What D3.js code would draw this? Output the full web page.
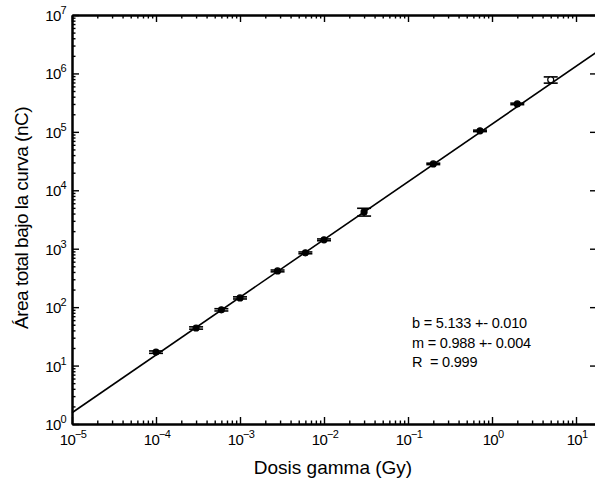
<!DOCTYPE html>
<html>
<head>
<meta charset="utf-8">
<script src="https://cdn.jsdelivr.net/npm/d3@7"></script>
<style>
  body { margin: 0; background: #fff; }
  svg { display: block; font-family: "Liberation Sans", Arial, sans-serif; }
</style>
</head>
<body>
<div class="canvas"></div>
<script>
// data
const doseGy = [1e-4, 3e-4, 6e-4, 1e-3, 2.8e-3, 6e-3, 1e-2, 3e-2, 0.2, 0.72, 2, 5];
const areaNC = [17, 44, 90, 144, 417, 850, 1420, 4270, 28300, 104000, 301000, 777000];
const areaErr = [0.8, 2, 4, 6, 15, 30, 50, 650, 800, 3000, 9000, 95000];
const xTickExps = [-5, -4, -3, -2, -1, 0, 1];
const yTickExps = [0, 1, 2, 3, 4, 5, 6, 7];
const fitLines = ['b = 5.133 +- 0.010', 'm = 0.988 +- 0.004', 'R  = 0.999'];
const fitB = 5.133, fitM = 0.988;

const width = 595, height = 487;
const margin = {top: 15, right: -1, bottom: 63, left: 72};
const graphWidth = width - margin.left - margin.right;
const graphHeight = height - margin.top - margin.bottom;

const svg = d3.select('.canvas')
  .append('svg')
    .attr('width', width)
    .attr('height', height);

const graph = svg.append('g')
  .attr('transform', `translate(${margin.left}, ${margin.top})`);

// scales
const x = d3.scaleLog()
  .domain([1e-5, Math.pow(10, 1.238)])
  .range([0, graphWidth]);
const y = d3.scaleLog()
  .domain([1, 1e7])
  .range([graphHeight, 0]);

// minor tick values
const minors = (lo, hi) => {
  const out = [];
  for (let e = lo; e < hi; e++)
    for (let k = 2; k <= 9; k++) out.push(k * Math.pow(10, e));
  return out;
};
const xMinor = minors(-5, 2).filter(v => v <= x.domain()[1]);
const yMinor = minors(0, 7);
const xMajor = xTickExps.map(e => Math.pow(10, e));
const yMajor = yTickExps.map(e => Math.pow(10, e));

const axisGroup = (axis, tx, ty) => {
  const g = graph.append('g')
    .attr('transform', `translate(${tx}, ${ty})`)
    .call(axis);
  g.selectAll('line').attr('stroke', '#000').attr('stroke-width', 1.4);
  g.select('.domain').attr('stroke', '#000').attr('stroke-width', 2);
  g.selectAll('text').remove();
  return g;
};

// major + minor ticks, all pointing inward
axisGroup(d3.axisBottom(x).tickValues(xMajor).tickSizeInner(-7).tickSizeOuter(0), 0, graphHeight);
axisGroup(d3.axisBottom(x).tickValues(xMinor).tickSizeInner(-3.5).tickSizeOuter(0), 0, graphHeight);
axisGroup(d3.axisTop(x).tickValues(xMajor).tickSizeInner(-7).tickSizeOuter(0), 0, 0);
axisGroup(d3.axisTop(x).tickValues(xMinor).tickSizeInner(-3.5).tickSizeOuter(0), 0, 0);
axisGroup(d3.axisLeft(y).tickValues(yMajor).tickSizeInner(-7).tickSizeOuter(0), 0, 0);
axisGroup(d3.axisLeft(y).tickValues(yMinor).tickSizeInner(-3.5).tickSizeOuter(0), 0, 0);
axisGroup(d3.axisRight(y).tickValues(yMajor).tickSizeInner(-6).tickSizeOuter(0), graphWidth, 0);

// tick labels as 10^n
const powLabel = (sel, e) => {
  sel.append('tspan').text('10');
  sel.append('tspan')
    .attr('dy', -7)
    .attr('font-size', 11)
    .text(e < 0 ? '\u2212' + (-e) : e);
};

xTickExps.forEach(e => {
  graph.append('text')
    .attr('x', x(Math.pow(10, e)) + 1)
    .attr('y', graphHeight + 21)
    .attr('text-anchor', 'middle')
    .attr('font-size', 15)
    .attr('letter-spacing', -0.7)
    .call(powLabel, e);
});
yTickExps.forEach(e => {
  graph.append('text')
    .attr('x', -6)
    .attr('y', y(Math.pow(10, e)) + 6)
    .attr('text-anchor', 'end')
    .attr('font-size', 15)
    .attr('letter-spacing', -0.7)
    .call(powLabel, e);
});

// axis titles
svg.append('text')
  .attr('x', 333)
  .attr('y', 474)
  .attr('text-anchor', 'middle')
  .attr('font-size', 19)
  .text('Dosis gamma (Gy)');
svg.append('text')
  .attr('transform', 'translate(28, 218) rotate(-90)')
  .attr('text-anchor', 'middle')
  .attr('font-size', 19)
  .attr('letter-spacing', -0.5)
  .text('Área total bajo la curva (nC)');

// fit line: log10(y) = b + m*log10(x)
const fitY = v => Math.pow(10, fitB + fitM * Math.log10(v));
const ends = x.domain();
graph.append('line')
  .attr('x1', x(ends[0])).attr('y1', y(fitY(ends[0])))
  .attr('x2', x(ends[1])).attr('y2', y(fitY(ends[1])))
  .attr('stroke', '#000')
  .attr('stroke-width', 1.6);

// data points with error bars
const pts = doseGy.map((d, i) => ({dose: d, area: areaNC[i], err: areaErr[i]}));
const capW = 7;
const pg = graph.selectAll('g.pt')
  .data(pts)
  .enter().append('g')
    .attr('class', 'pt');
pg.append('line')
  .attr('x1', d => x(d.dose)).attr('x2', d => x(d.dose))
  .attr('y1', d => y(d.area + d.err)).attr('y2', d => y(d.area - d.err))
  .attr('stroke', '#000').attr('stroke-width', 1.5);
pg.selectAll('line.cap')
  .data(d => [d.area + d.err, d.area - d.err].map(v => ({dose: d.dose, v})))
  .enter().append('line')
    .attr('class', 'cap')
    .attr('x1', d => x(d.dose) - capW).attr('x2', d => x(d.dose) + capW)
    .attr('y1', d => y(d.v)).attr('y2', d => y(d.v))
    .attr('stroke', '#000').attr('stroke-width', 1.6);
pg.append('circle')
  .attr('cx', d => x(d.dose))
  .attr('cy', d => y(d.area))
  .attr('r', 3)
  .attr('fill', (d, i) => i === pts.length - 1 ? '#fff' : '#000')
  .attr('stroke', '#000')
  .attr('stroke-width', 1.2);

// fit results
const note = svg.append('g')
  .attr('font-size', 14.5)
  .attr('letter-spacing', -0.2);
fitLines.forEach((t, i) => {
  note.append('text')
    .attr('x', 412)
    .attr('y', 328 + i * 19.5)
    .attr('xml:space', 'preserve')
    .style('white-space', 'pre')
    .text(t);
});
</script>
</body>
</html>
